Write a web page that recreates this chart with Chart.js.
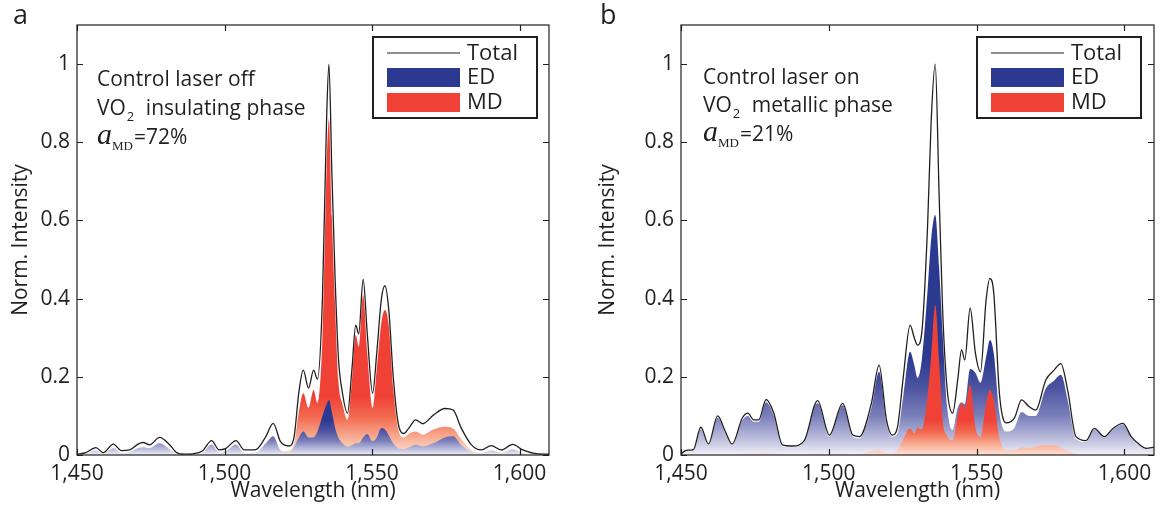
<!DOCTYPE html>
<html>
<head>
<meta charset="utf-8">
<script src="https://cdn.jsdelivr.net/npm/chart.js@4.4.1/dist/chart.umd.min.js"></script>
<style>
  body { margin: 0; background: #fff; }
  #wrap { position: relative; width: 1165px; height: 510px; }
  .panel { position: absolute; top: 0; height: 510px; }
</style>
</head>
<body>
<div id="wrap">
  <div class="panel" style="left:0;width:590px"><canvas id="chartA" width="590" height="510"></canvas></div>
  <div class="panel" style="left:590px;width:575px"><canvas id="chartB" width="575" height="510"></canvas></div>
</div>
<script>
// Panel a: control laser off (VO2 insulating)
const wlA = [1450, 1453, 1456.4, 1458.9, 1462.3, 1465.1, 1467.9, 1470.7, 1472.4, 1474.6,
  1478, 1481.4, 1483.6, 1486.5, 1489.2, 1492.6, 1495.6, 1498.2, 1500.5, 1503.9,
  1506.7, 1510.6, 1514, 1516.5, 1519, 1521.8, 1523.6, 1525.2, 1526.7, 1528.5,
  1530.2, 1531.5, 1533.2, 1534.6, 1535.4, 1536.4, 1537.5, 1538.6, 1540, 1541.7,
  1543.2, 1544.5, 1545.5, 1547, 1548.4, 1550.2, 1551.6, 1553.2, 1554.4, 1555.7,
  1557.2, 1558.8, 1560.8, 1562.6, 1564.8, 1567.2, 1570.8, 1574.7, 1577.5, 1580.3,
  1583.7, 1587.1, 1590.4, 1593.8, 1597.7, 1601.1, 1605, 1610];
const totalA = [0.002, 0.006, 0.019, 0.006, 0.028, 0.011, 0.013, 0.028, 0.032, 0.026,
  0.045, 0.026, 0.007, 0.002, 0.003, 0.011, 0.037, 0.013, 0.017, 0.037,
  0.013, 0.014, 0.047, 0.081, 0.034, 0.023, 0.047, 0.16, 0.217, 0.171,
  0.217, 0.194, 0.40, 0.857, 1.0, 0.72, 0.45, 0.25, 0.158, 0.107,
  0.22, 0.332, 0.31, 0.45, 0.31, 0.158, 0.26, 0.40, 0.433, 0.37,
  0.20, 0.085, 0.055, 0.07, 0.09, 0.08, 0.102, 0.119, 0.115, 0.068,
  0.026, 0.013, 0.024, 0.013, 0.027, 0.013, 0.004, 0.002];
const edA = [0.001, 0.003, 0.012, 0.003, 0.018, 0.005, 0.008, 0.018, 0.02, 0.018,
  0.03, 0.015, 0.003, 0.001, 0.001, 0.006, 0.027, 0.006, 0.01, 0.027,
  0.005, 0.006, 0.03, 0.048, 0.012, 0.006, 0.021, 0.045, 0.06, 0.045,
  0.045, 0.06, 0.10, 0.13, 0.141, 0.11, 0.07, 0.045, 0.03, 0.021,
  0.025, 0.03, 0.03, 0.045, 0.054, 0.035, 0.045, 0.069, 0.065, 0.05,
  0.03, 0.018, 0.015, 0.02, 0.026, 0.022, 0.03, 0.045, 0.048, 0.025,
  0.008, 0.005, 0.012, 0.006, 0.015, 0.005, 0.001, 0];
const mdA = [0, 0.001, 0.002, 0.001, 0.003, 0.002, 0.002, 0.003, 0.004, 0.003,
  0.005, 0.003, 0.001, 0, 0, 0.001, 0.004, 0.002, 0.002, 0.004,
  0.002, 0.002, 0.005, 0.008, 0.01, 0.012, 0.03, 0.11, 0.158, 0.12,
  0.166, 0.133, 0.30, 0.73, 0.859, 0.61, 0.38, 0.19, 0.13, 0.09,
  0.19, 0.307, 0.277, 0.409, 0.26, 0.12, 0.22, 0.34, 0.371, 0.33,
  0.17, 0.07, 0.045, 0.055, 0.06, 0.052, 0.065, 0.072, 0.068, 0.04,
  0.012, 0.005, 0.006, 0.004, 0.006, 0.003, 0.001, 0];

// Panel b: control laser on (VO2 metallic)
const wlB = [1450, 1451.8, 1454.2, 1456.7, 1459.3, 1462.4, 1465, 1467.3, 1470.7, 1472.6,
  1474.6, 1476.3, 1478.8, 1481.4, 1484.3, 1487.7, 1491.7, 1496.2, 1500.2, 1504.7,
  1508.1, 1510.4, 1514.4, 1517, 1519.5, 1521.5, 1523.2, 1525.2, 1527.5, 1528.9,
  1530, 1531.4, 1533.4, 1534.6, 1536, 1537.3, 1538.5, 1540, 1541.9, 1543.6,
  1544.9, 1546, 1547.8, 1549.6, 1551.3, 1553.2, 1554.5, 1555.8, 1557.7, 1560,
  1562.8, 1565.2, 1567.7, 1570, 1573.4, 1576.2, 1578.5, 1580.8, 1583.6, 1587,
  1589.8, 1593.2, 1596.1, 1599.5, 1602.3, 1605.2, 1607.4, 1610];
const totalB = [0.003, 0.012, 0.014, 0.071, 0.028, 0.10, 0.06, 0.028, 0.094, 0.107,
  0.09, 0.09, 0.142, 0.107, 0.026, 0.023, 0.037, 0.139, 0.051, 0.132,
  0.051, 0.047, 0.132, 0.23, 0.09, 0.051, 0.07, 0.2, 0.332, 0.30,
  0.281, 0.31, 0.584, 0.85, 1.0, 0.67, 0.371, 0.171, 0.107, 0.192,
  0.269, 0.243, 0.376, 0.26, 0.213, 0.396, 0.452, 0.414, 0.158, 0.082,
  0.095, 0.141, 0.124, 0.115, 0.192, 0.217, 0.234, 0.166, 0.047, 0.037,
  0.068, 0.047, 0.068, 0.081, 0.047, 0.026, 0.017, 0.02];
const edB = [0.002, 0.01, 0.011, 0.066, 0.025, 0.095, 0.055, 0.025, 0.088, 0.10,
  0.085, 0.085, 0.135, 0.10, 0.022, 0.02, 0.033, 0.133, 0.047, 0.127,
  0.047, 0.043, 0.12, 0.213, 0.08, 0.047, 0.055, 0.15, 0.264, 0.23,
  0.197, 0.24, 0.42, 0.55, 0.614, 0.48, 0.31, 0.125, 0.064, 0.12,
  0.135, 0.13, 0.22, 0.21, 0.185, 0.25, 0.294, 0.26, 0.107, 0.06,
  0.07, 0.11, 0.10, 0.10, 0.17, 0.19, 0.205, 0.14, 0.04, 0.033,
  0.065, 0.045, 0.065, 0.078, 0.045, 0.024, 0.015, 0.018];
const mdB = [0, 0, 0.001, 0.002, 0.001, 0.002, 0.002, 0.001, 0.003, 0.004,
  0.004, 0.004, 0.005, 0.004, 0.002, 0.001, 0.002, 0.004, 0.003, 0.004,
  0.002, 0.002, 0.01, 0.013, 0.005, 0.003, 0.012, 0.04, 0.068, 0.056,
  0.07, 0.065, 0.15, 0.25, 0.384, 0.24, 0.09, 0.05, 0.038, 0.1,
  0.133, 0.12, 0.18, 0.07, 0.047, 0.13, 0.166, 0.14, 0.045, 0.012,
  0.012, 0.02, 0.018, 0.022, 0.025, 0.025, 0.02, 0.01, 0.003, 0.001,
  0, 0, 0, 0, 0, 0, 0, 0];

const xTickStep = 50;
const yTickStep = 0.2;

const INK = '#231f20';
const BLUE = '#2b3990';
const RED = '#ef4136';
const SANS = '"Open Sans", sans-serif';

Chart.defaults.font.family = SANS;
Chart.defaults.color = INK;

function toPoints(wl, vals) {
    return wl.map((w, i) => ({ x: w, y: vals[i] }));
}

// vertical gradient from the baseline up to value `top`
function gradient(stops, top, solid) {
    return function (context) {
        const chart = context.chart;
        const y = chart.scales.y;
        if (!chart.chartArea || !y) return solid;
        const g = chart.ctx.createLinearGradient(0, y.getPixelForValue(0), 0, y.getPixelForValue(top));
        stops.forEach(s => g.addColorStop(s[0], s[1]));
        return g;
    };
}

const blueStops = [[0, '#f2f2f9'], [0.12, '#c9cae4'], [0.4, '#7a7fba'], [0.7, '#4b529f'], [1, BLUE]];
const redStops = [[0, '#fde3d8'], [0.3, '#f8ad93'], [0.65, '#f26a50'], [1, RED]];

// box with inward ticks on all four sides
const framePlugin = {
    id: 'frame',
    afterDatasetsDraw(chart) {
        const { ctx, chartArea: a, scales: { x, y } } = chart;
        ctx.save();
        ctx.strokeStyle = INK;
        ctx.lineWidth = 1.2;
        ctx.strokeRect(a.left, a.top, a.right - a.left, a.bottom - a.top);
        ctx.beginPath();
        x.ticks.forEach(t => {
            const px = Math.round(x.getPixelForValue(t.value)) + 0.5;
            ctx.moveTo(px, a.bottom); ctx.lineTo(px, a.bottom - 6);
            ctx.moveTo(px, a.top); ctx.lineTo(px, a.top + 6);
        });
        y.ticks.forEach(t => {
            const py = Math.round(y.getPixelForValue(t.value)) + 0.5;
            ctx.moveTo(a.left, py); ctx.lineTo(a.left + 6, py);
            ctx.moveTo(a.right, py); ctx.lineTo(a.right - 6, py);
        });
        ctx.stroke();
        ctx.restore();
    }
};

// panel letter, annotation and legend box
const notesPlugin = {
    id: 'notes',
    afterDraw(chart, args, o) {
        const ctx = chart.ctx;
        ctx.save();
        ctx.fillStyle = INK;
        ctx.textBaseline = 'alphabetic';
        ctx.textAlign = 'left';

        ctx.font = '27px ' + SANS;
        ctx.fillText(o.letter, o.letterX, 24);

        const x0 = o.x;
        ctx.font = '21px ' + SANS;
        ctx.fillText(o.line1, x0, o.y1);
        ctx.fillText('VO', x0, o.y2);
        let w = ctx.measureText('VO').width;
        ctx.font = '13px ' + SANS;
        ctx.fillText('2', x0 + w + 1, o.y2 + 6);
        ctx.font = '21px ' + SANS;
        ctx.fillText(o.line2, x0 + w + 20, o.y2);

        ctx.font = 'italic 30px "Liberation Serif", serif';
        ctx.fillText('a', x0, o.y3);
        w = ctx.measureText('a').width;
        ctx.font = '13px "Liberation Serif", serif';
        ctx.fillText('MD', x0 + w, o.y3 + 6);
        const w2 = ctx.measureText('MD').width;
        ctx.font = '21px ' + SANS;
        ctx.fillText(o.line3, x0 + w + w2 + 1, o.y3);

        // legend
        const L = o.legendX, T = 37;
        ctx.lineWidth = 2;
        ctx.strokeStyle = INK;
        ctx.strokeRect(L, T, 164, 81);
        ctx.lineWidth = 1.2;
        ctx.beginPath();
        ctx.moveTo(L + 14, T + 16);
        ctx.lineTo(L + 87, T + 16);
        ctx.stroke();
        ctx.fillStyle = BLUE;
        ctx.fillRect(L + 14, T + 31, 73, 19);
        ctx.fillStyle = RED;
        ctx.fillRect(L + 14, T + 56, 73, 19);
        ctx.fillStyle = INK;
        ctx.font = '22px ' + SANS;
        ctx.fillText('Total', L + 94, T + 23);
        ctx.fillText('ED', L + 94, T + 47);
        ctx.fillText('MD', L + 94, T + 72);
        ctx.restore();
    }
};

function makeChart(id, wl, total, ed, md, opt) {
    const edSet = {
        label: 'ED',
        data: toPoints(wl, ed),
        fill: 'origin',
        borderWidth: 0,
        borderColor: 'rgba(0,0,0,0)',
        backgroundColor: gradient(blueStops, opt.blueTop, BLUE),
        pointRadius: 0,
        cubicInterpolationMode: 'monotone',
        order: opt.edOrder
    };
    const mdSet = {
        label: 'MD',
        data: toPoints(wl, md),
        fill: 'origin',
        borderWidth: 0,
        borderColor: 'rgba(0,0,0,0)',
        backgroundColor: gradient(redStops, opt.redTop, RED),
        pointRadius: 0,
        cubicInterpolationMode: 'monotone',
        order: opt.mdOrder
    };
    const totalSet = {
        label: 'Total',
        data: toPoints(wl, total),
        fill: false,
        borderColor: INK,
        borderWidth: 1.3,
        pointRadius: 0,
        cubicInterpolationMode: 'monotone',
        order: 0
    };

    return new Chart(document.getElementById(id), {
        type: 'line',
        data: { datasets: [edSet, mdSet, totalSet] },
        options: {
            responsive: false,
            animation: false,
            layout: { padding: { left: 0, top: 25, right: opt.padRight, bottom: 0 } },
            plugins: {
                legend: { display: false },
                tooltip: { enabled: false },
                notes: opt.notes
            },
            scales: {
                x: {
                    type: 'linear',
                    min: 1450,
                    max: 1610,
                    border: { display: false },
                    grid: { display: false, drawTicks: false },
                    ticks: {
                        stepSize: xTickStep,
                        includeBounds: false,
                        padding: 6,
                        font: { size: 21 },
                        color: INK,
                        callback: v => v.toLocaleString('en-US')
                    },
                    title: {
                        display: true,
                        text: 'Wavelength (nm)',
                        font: { size: 21 },
                        color: INK,
                        padding: { top: 0, bottom: 6 }
                    },
                    afterFit: s => { s.height = 55; }
                },
                y: {
                    min: 0,
                    max: 1.1,
                    border: { display: false },
                    grid: { display: false, drawTicks: false },
                    ticks: {
                        stepSize: yTickStep,
                        includeBounds: false,
                        padding: 7,
                        font: { size: 21 },
                        color: INK,
                        callback: v => Math.abs(v - Math.round(v)) < 1e-9 ? String(Math.round(v)) : v.toFixed(1)
                    },
                    title: {
                        display: true,
                        text: 'Norm. Intensity',
                        font: { size: 21 },
                        color: INK,
                        padding: { top: opt.yTitlePad, bottom: 0 }
                    },
                    afterFit: s => { s.width = opt.yAxisWidth; }
                }
            }
        },
        plugins: [framePlugin, notesPlugin]
    });
}

makeChart('chartA', wlA, totalA, edA, mdA, {
    yAxisWidth: 77, padRight: 41, yTitlePad: 8,
    blueTop: 0.09, redTop: 0.15, edOrder: 1, mdOrder: 2,
    notes: { letter: 'a', letterX: 13, x: 97, y1: 86, y2: 115, y3: 144,
        line1: 'Control laser off', line2: 'insulating phase', line3: '=72%', legendX: 373 }
});

makeChart('chartB', wlB, totalB, edB, mdB, {
    yAxisWidth: 91, padRight: 11, yTitlePad: 5,
    blueTop: 0.25, redTop: 0.09, edOrder: 2, mdOrder: 1,
    notes: { letter: 'b', letterX: 10, x: 113, y1: 84, y2: 112, y3: 141,
        line1: 'Control laser on', line2: 'metallic phase', line3: '=21%', legendX: 387 }
});
</script>
</body>
</html>
